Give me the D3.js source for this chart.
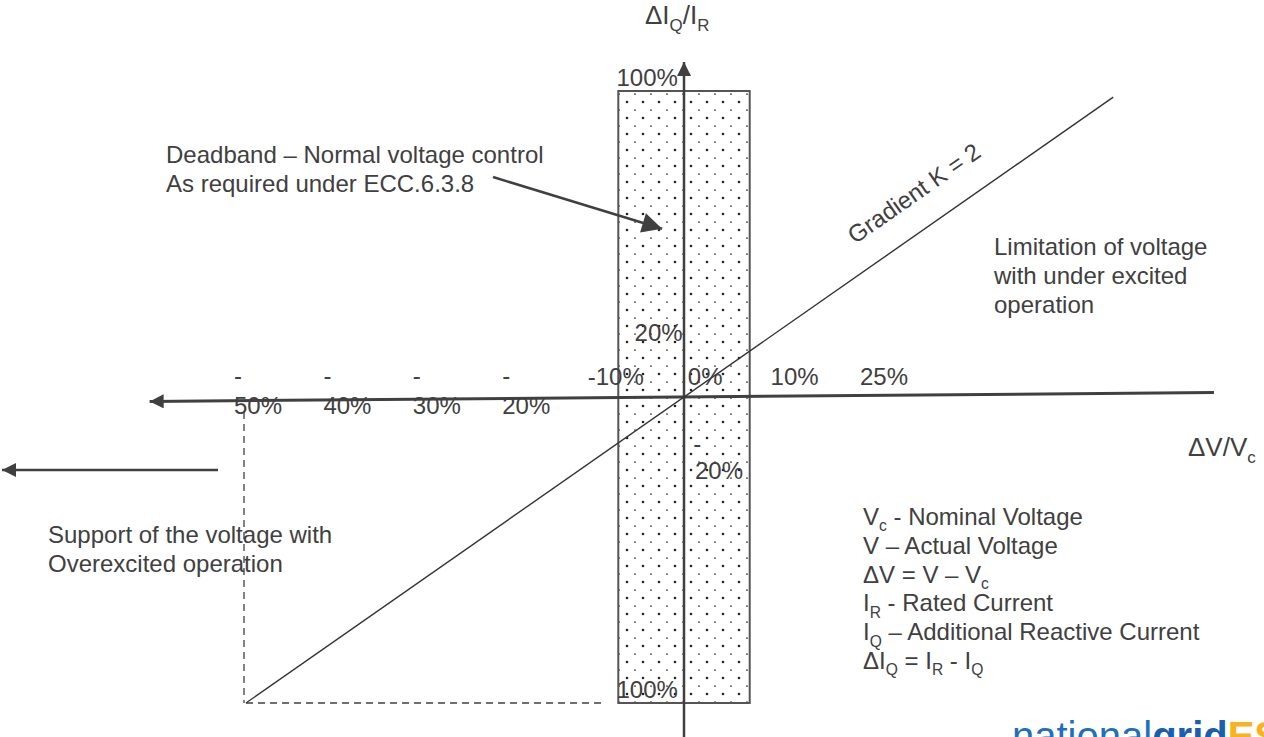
<!DOCTYPE html>
<html>
<head>
<meta charset="utf-8">
<script src="https://cdn.jsdelivr.net/npm/d3@7"></script>
<style>
  body { margin: 0; background: #fff; }
  text { font-family: "Liberation Sans", Arial, sans-serif; fill: #404040; }
</style>
</head>
<body>
<div id="chart"></div>
<script>
// values (ΔV/Vc in %, ΔIQ/IR in %)
const xTickLabels = ["-50%", "-40%", "-30%", "-20%", "-10%", "0%", "10%", "25%"];
const yTickValues = [100, 20, -20, -100];
const yTickLabels = ["100%", "20%", "-20%", "100%"];
const deadband = [-7.5, 7.5];
const gradientLine = [{ dv: -50, diq: -100 }, { dv: 49, diq: 98 }];
const overexcitedCorner = { dv: -50, diq: -100 };
const legendLines = [
  "V_c - Nominal Voltage",
  "V – Actual Voltage",
  "ΔV = V – V_c",
  "I_R - Rated Current",
  "I_Q – Additional Reactive Current",
  "ΔI_Q = I_R - I_Q"
];

const width = 1264, height = 737;

const svg = d3.select("#chart")
  .append("svg")
  .attr("width", width)
  .attr("height", height);

const x = d3.scaleLinear().domain([-50, 50]).range([246, 1122]);
const y = d3.scaleLinear().domain([-100, 100]).range([703, 91]);
// the tick labels in the drawing are not spaced linearly, so they get their own row scale
const xLab = d3.scalePoint().domain(xTickLabels).range([258, 884]);

const defs = svg.append("defs");

// dotted fill of the deadband
const pat = defs.append("pattern")
  .attr("id", "dots")
  .attr("patternUnits", "userSpaceOnUse")
  .attr("x", 624).attr("y", 400)
  .attr("width", 16).attr("height", 16);
pat.append("circle").attr("cx", 3).attr("cy", 6).attr("r", 1.3).attr("fill", "#222");
pat.append("rect").attr("x", 10).attr("y", 13.5).attr("width", 2).attr("height", 1.2).attr("fill", "#444");

function marker(id, w, h) {
  defs.append("marker")
    .attr("id", id)
    .attr("viewBox", "0 0 10 10")
    .attr("refX", 10).attr("refY", 5)
    .attr("markerUnits", "userSpaceOnUse")
    .attr("markerWidth", w).attr("markerHeight", h)
    .attr("orient", "auto-start-reverse")
    .append("path")
    .attr("d", "M0,0 L10,5 L0,10 z")
    .attr("fill", "#404040");
}
marker("arrow", 16, 14);
marker("arrowBig", 24, 20);

// deadband box
svg.append("rect")
  .attr("x", x(deadband[0]))
  .attr("y", y(100))
  .attr("width", x(deadband[1]) - x(deadband[0]))
  .attr("height", y(-100) - y(100))
  .attr("fill", "url(#dots)")
  .attr("stroke", "#555")
  .attr("stroke-width", 2);

// dashed guides to the -50% / -100% corner
svg.append("line")
  .attr("x1", x(overexcitedCorner.dv) - 2).attr("y1", 412)
  .attr("x2", x(overexcitedCorner.dv) - 2).attr("y2", y(overexcitedCorner.diq))
  .attr("stroke", "#404040").attr("stroke-width", 1.3)
  .attr("stroke-dasharray", "7,5");
svg.append("line")
  .attr("x1", x(overexcitedCorner.dv)).attr("y1", y(overexcitedCorner.diq))
  .attr("x2", x(-9.3)).attr("y2", y(overexcitedCorner.diq))
  .attr("stroke", "#404040").attr("stroke-width", 1.3)
  .attr("stroke-dasharray", "7,5");

// horizontal axis (slightly skewed in the original)
svg.append("line")
  .attr("x1", x(60.5)).attr("y1", y(0))
  .attr("x2", x(-61)).attr("y2", y(0))
  .attr("transform", `rotate(-0.48, ${x(0)}, ${y(0)})`)
  .attr("stroke", "#404040").attr("stroke-width", 3)
  .attr("marker-end", "url(#arrow)");

// vertical axis
svg.append("line")
  .attr("x1", x(0)).attr("y1", height + 5)
  .attr("x2", x(0)).attr("y2", y(109.5))
  .attr("stroke", "#404040").attr("stroke-width", 2.5)
  .attr("marker-end", "url(#arrow)");

// K = 2 characteristic
const line = d3.line().x(d => x(d.dv)).y(d => y(d.diq));
svg.append("path")
  .datum(gradientLine)
  .attr("d", line)
  .attr("fill", "none")
  .attr("stroke", "#333")
  .attr("stroke-width", 1.4);

const angle = Math.atan2(y(gradientLine[1].diq) - y(gradientLine[0].diq),
                         x(gradientLine[1].dv) - x(gradientLine[0].dv)) * 180 / Math.PI;
svg.append("text")
  .attr("transform", `translate(${x(21.3)},${y(42.6)}) rotate(${angle})`)
  .attr("dy", -27)
  .attr("font-size", 24)
  .text("Gradient K = 2");

// x tick labels
xTickLabels.forEach(lab => {
  const cx = xLab(lab);
  const v = parseFloat(lab);
  if (v <= -20) {
    svg.append("text").attr("x", cx - 20).attr("y", 384)
      .attr("text-anchor", "middle").attr("font-size", 24).text("-");
    svg.append("text").attr("x", cx).attr("y", 414)
      .attr("text-anchor", "middle").attr("font-size", 24).text(lab.slice(1));
  } else {
    svg.append("text").attr("x", cx).attr("y", 385)
      .attr("text-anchor", "middle").attr("font-size", 24).text(lab);
  }
});

// y tick labels
yTickValues.forEach((v, i) => {
  const lab = yTickLabels[i];
  if (Math.abs(v) === 100) {
    svg.append("text").attr("x", x(-4.2)).attr("y", y(v) - 5)
      .attr("text-anchor", "middle").attr("font-size", 24).text(lab);
  } else if (v > 0) {
    svg.append("text").attr("x", x(-2.9)).attr("y", y(v) + 5)
      .attr("text-anchor", "middle").attr("font-size", 24).text(lab);
  } else {
    svg.append("text").attr("x", x(1.5)).attr("y", y(v) - 6)
      .attr("text-anchor", "middle").attr("font-size", 24).text("-");
    svg.append("text").attr("x", x(4)).attr("y", y(v) + 21)
      .attr("text-anchor", "middle").attr("font-size", 24).text(lab.slice(1));
  }
});

// text with _X subscripts
function richText(sel, str, size) {
  let sub = false;
  str.split(/(_\w)/).filter(s => s.length).forEach(part => {
    if (part[0] === "_") {
      sel.append("tspan").attr("font-size", size * 0.65).attr("dy", size * 0.27).text(part[1]);
      sub = true;
    } else {
      sel.append("tspan").attr("dy", sub ? -size * 0.27 : 0).text(part);
      sub = false;
    }
  });
}

// axis titles
richText(svg.append("text").attr("x", 645).attr("y", 24).attr("font-size", 26), "ΔI_Q/I_R", 26);
richText(svg.append("text").attr("x", 1188).attr("y", 456).attr("font-size", 26), "ΔV/V_c", 26);

// annotations
function block(lines, x0, y0, step) {
  lines.forEach((l, i) => {
    svg.append("text").attr("x", x0).attr("y", y0 + i * step).attr("font-size", 24).text(l);
  });
}
block(["Deadband – Normal voltage control", "As required under ECC.6.3.8"], 166, 163, 29);
block(["Limitation of voltage", "with under excited", "operation"], 994, 255, 29);
block(["Support of the voltage with", "Overexcited operation"], 48, 543, 29);

svg.append("line")
  .attr("x1", 493).attr("y1", 177)
  .attr("x2", x(-2.5)).attr("y2", y(55))
  .attr("stroke", "#404040").attr("stroke-width", 2.5)
  .attr("marker-end", "url(#arrowBig)");

svg.append("line")
  .attr("x1", 218).attr("y1", 470)
  .attr("x2", 2).attr("y2", 470)
  .attr("stroke", "#404040").attr("stroke-width", 2.5)
  .attr("marker-end", "url(#arrow)");

// legend
legendLines.forEach((l, i) => {
  const t = svg.append("text").attr("x", 863).attr("y", 525 + i * 28.8).attr("font-size", 24);
  richText(t, l, 24);
});

// logo (cut off by the bottom edge, as in the source)
const logo = svg.append("text").attr("x", 1012).attr("y", 750).attr("font-size", 40);
logo.append("tspan").style("fill", "#1f6fba").text("national");
logo.append("tspan").attr("font-weight", "bold").style("fill", "#1a5fae").text("grid");
logo.append("tspan").attr("font-weight", "bold").style("fill", "#f8b323").text("ESO");
</script>
</body>
</html>
